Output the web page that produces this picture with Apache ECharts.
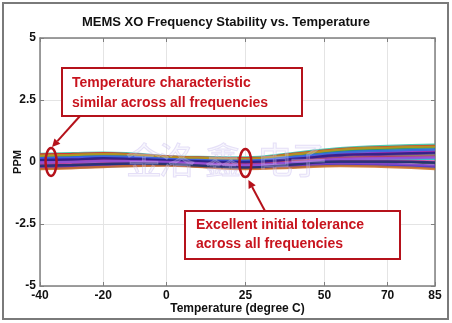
<!DOCTYPE html>
<html><head><meta charset="utf-8">
<script src="https://cdn.jsdelivr.net/npm/echarts@6/dist/echarts.min.js"></script>
<style>html,body{margin:0;padding:0;background:#fff}#c{width:452px;height:323px}</style>
</head><body><div id="c"></div>
<script>
const temps = [-40,-30,-20,-10,0,10,25,40,55,70,85];
const xTicks = [-40,-20,0,25,50,70,85];
const yTicks = [-5,-2.5,0,2.5,5];
const s1  = [0.30,0.32,0.35,0.30,0.22,0.18,0.15,0.32,0.52,0.60,0.65];
const s2  = [0.20,0.25,0.30,0.26,0.18,0.15,0.10,0.28,0.45,0.55,0.62];
const s3  = [-0.25,-0.22,-0.18,-0.15,-0.12,-0.18,-0.25,-0.20,-0.12,-0.15,-0.22];
const s4  = [0.05,0.08,0.12,0.10,0.05,0.00,-0.05,0.10,0.25,0.30,0.35];
const s5  = [-0.10,-0.08,-0.02,0.00,-0.02,-0.08,-0.15,-0.05,0.08,0.10,0.12];
const s6  = [0.12,0.15,0.18,0.15,0.10,0.05,0.02,0.15,0.30,0.38,0.42];
const s7  = [-0.18,-0.15,-0.10,-0.08,-0.05,-0.12,-0.20,-0.12,0.00,0.00,-0.05];
const s8  = [0.25,0.28,0.32,0.28,0.20,0.16,0.12,0.30,0.50,0.58,0.62];
const s9  = [-0.05,-0.02,0.05,0.05,0.02,-0.03,-0.10,0.02,0.15,0.20,0.22];
const s10 = [0.00,0.03,0.08,0.08,0.04,0.00,-0.08,0.05,0.20,0.25,0.28];
const s11 = [0.15,0.18,0.22,0.20,0.12,0.08,0.05,0.20,0.38,0.45,0.50];
const s12 = [-0.22,-0.20,-0.15,-0.12,-0.10,-0.15,-0.22,-0.15,-0.05,-0.08,-0.15];
const s13 = [0.32,0.35,0.38,0.33,0.23,0.20,0.18,0.36,0.56,0.65,0.70];
const s14 = [-0.12,-0.10,-0.05,-0.03,-0.04,-0.10,-0.18,-0.08,0.05,0.05,0.02];
const s15 = [0.08,0.10,0.15,0.12,0.07,0.03,0.00,0.12,0.28,0.33,0.38];
const s16 = [-0.28,-0.25,-0.20,-0.16,-0.14,-0.19,-0.28,-0.23,-0.16,-0.20,-0.28];
const s17 = [0.18,0.20,0.26,0.22,0.15,0.12,0.08,0.24,0.42,0.50,0.55];
const s18 = [-0.02,0.00,0.04,0.03,0.00,-0.05,-0.12,-0.02,0.12,0.15,0.18];
const s19 = [0.10,0.12,0.20,0.18,0.12,0.08,0.03,0.18,0.35,0.42,0.46];
const s20 = [-0.15,-0.12,-0.08,-0.06,-0.08,-0.14,-0.22,-0.10,0.02,0.02,-0.02];
const allSeries = [s2,s13,s17,s19,s10,s1,s3,s4,s5,s6,s7,s8,s9,s11,s12,s14,s15,s16,s18,s20];
const colors = ['#20a020','#30c0a0','#209080','#90b030','#50b050','#e02020','#2030d0','#8020a0','#20b0c0','#d020d0',
                '#404050','#b0a020','#c03060','#3060f0','#7030c0','#e040a0','#202080','#d07020','#9050e0','#103070'];

const FF = 'Liberation Sans, Arial, sans-serif';
const axisColor = '#7f7f7f';
const chart = echarts.init(document.getElementById('c'), null, {renderer:'canvas'});

const series = allSeries.map((arr,i)=>({
  type:'line', data: temps.map((t,j)=>[t,arr[j]]), smooth:true, showSymbol:false, silent:true,
  lineStyle:{width:2.4, color:colors[i], opacity:0.85}, z:2
}));

chart.setOption({
  animation:false,
  backgroundColor:'#fff',
  title:{text:'MEMS XO Frequency Stability vs. Temperature', left:'center', top:11,
    textStyle:{fontSize:13, fontWeight:'bold', color:'#111', fontFamily:FF}},
  grid:{left:40, right:17, top:38, bottom:37, containLabel:false, outerBoundsMode:'none'},
  xAxis:[{
    type:'value', min:-40, max:85, position:'bottom',
    axisLine:{show:true, onZero:false, lineStyle:{color:axisColor, width:1.5}},
    axisTick:{show:true, inside:true, length:4, customValues:xTicks, lineStyle:{color:axisColor}},
    axisLabel:{customValues:xTicks, color:'#111', fontWeight:'bold', fontSize:12, fontFamily:FF, margin:4},
    splitLine:{show:true, lineStyle:{color:'#e4e4e4'}},
    name:'Temperature (degree C)', nameLocation:'middle', nameGap:17, nameMoveOverlap:false,
    nameTextStyle:{color:'#111', fontWeight:'bold', fontSize:12, fontFamily:FF, verticalAlign:'top'}
  },{
    type:'value', min:-40, max:85, position:'top',
    axisLine:{show:true, onZero:false, lineStyle:{color:axisColor, width:1.5}},
    axisTick:{show:true, inside:true, length:4, customValues:xTicks, lineStyle:{color:axisColor}},
    axisLabel:{show:false}, splitLine:{show:false}
  }],
  yAxis:[{
    type:'value', min:-5, max:5, interval:2.5, position:'left',
    axisLine:{show:true, onZero:false, lineStyle:{color:axisColor, width:1.5}},
    axisTick:{show:true, inside:true, length:4, lineStyle:{color:axisColor}},
    axisLabel:{color:'#111', fontWeight:'bold', fontSize:12, fontFamily:FF, margin:4},
    splitLine:{show:true, lineStyle:{color:'#e4e4e4'}},
    name:'PPM', nameLocation:'middle', nameGap:17, nameRotate:90, nameMoveOverlap:false,
    nameTextStyle:{color:'#111', fontWeight:'bold', fontSize:11, fontFamily:FF}
  },{
    type:'value', min:-5, max:5, interval:2.5, position:'right',
    axisLine:{show:true, onZero:false, lineStyle:{color:axisColor, width:1.5}},
    axisTick:{show:true, inside:true, length:4, lineStyle:{color:axisColor}},
    axisLabel:{show:false}, splitLine:{show:false}
  }],
  series: series
});

function arrow(x1,y1,x2,y2,color){
  const a = Math.atan2(y2-y1,x2-x1), L=8, W=4;
  const bx = x2 - L*Math.cos(a), by = y2 - L*Math.sin(a);
  const px = -Math.sin(a)*W, py = Math.cos(a)*W;
  return [
    {type:'line', shape:{x1:x1,y1:y1,x2:bx,y2:by}, style:{stroke:color, lineWidth:2}, z:20},
    {type:'polygon', shape:{points:[[x2,y2],[bx+px,by+py],[bx-px,by-py]]}, style:{fill:color}, z:20}
  ];
}
const red = '#b5121b', textRed = '#c8141e';
const e1 = chart.convertToPixel({gridIndex:0}, [-36.5, 0]);
const e2 = chart.convertToPixel({gridIndex:0}, [25, 0]);
const wm = [['金',144],['洛',177],['鑫',223],['电',275],['子',308]];
const g = [
  {type:'rect', shape:{x:3,y:3,width:445,height:316}, style:{fill:'none', stroke:'#7a7a7a', lineWidth:2}, z:1, silent:true},
  {type:'ellipse', shape:{cx:e1[0], cy:e1[1], rx:5.5, ry:14}, style:{fill:'none', stroke:red, lineWidth:2.5}, z:20},
  {type:'ellipse', shape:{cx:e2[0], cy:e2[1]+1, rx:6, ry:14}, style:{fill:'none', stroke:red, lineWidth:2.5}, z:20},
  {type:'rect', shape:{x:62,y:68,width:240,height:48}, style:{fill:'#fff', stroke:red, lineWidth:2}, z:20},
  {type:'text', x:72, y:73, style:{text:'Temperature characteristic\nsimilar across all frequencies', fill:textRed,
    font:'bold 14px '+FF, lineHeight:20}, z:21},
  {type:'rect', shape:{x:185,y:211,width:215,height:48}, style:{fill:'#fff', stroke:red, lineWidth:2}, z:20},
  {type:'text', x:196, y:216, style:{text:'Excellent initial tolerance\nacross all frequencies', fill:textRed,
    font:'bold 14px '+FF, lineHeight:19}, z:21}
].concat(arrow(80,116,e1[0]+1,e1[1]-15,red)).concat(arrow(265,211,e2[0]+3,e2[1]-15+33,red));
wm.forEach(([ch,x])=>g.push({type:'text', x:x, y:160, style:{text:ch, font:'36px "Noto Sans CJK SC"', fill:'rgba(225,218,248,0.25)',
  stroke:'rgba(185,170,235,0.35)', lineWidth:1, align:'center', verticalAlign:'middle'}, z:15, silent:true}));
chart.setOption({graphic:g});
</script></body></html>
